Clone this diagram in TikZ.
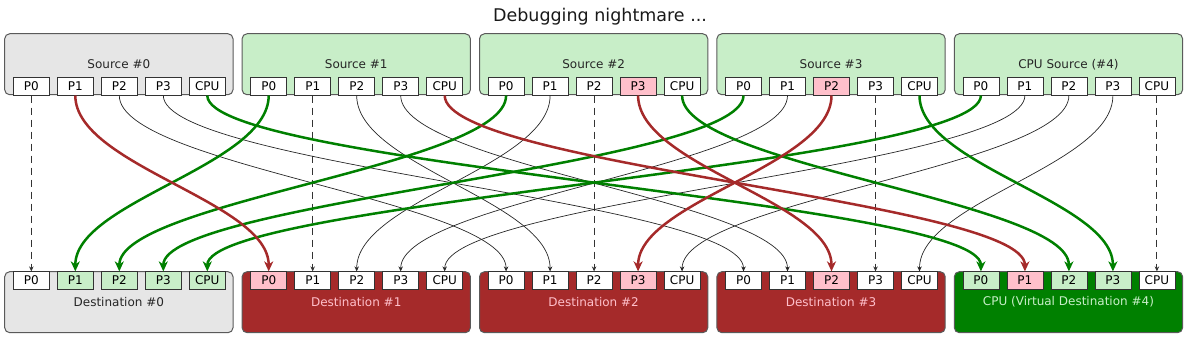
\documentclass[tikz,border=0pt]{standalone}
\usepackage{fontspec}
\setmainfont{DejaVu Sans}
\usetikzlibrary{arrows.meta}
\definecolor{boxgray}{RGB}{230,230,230}
\definecolor{srcgreen}{RGB}{200,238,200}
\definecolor{portpink}{RGB}{255,192,203}
\definecolor{darkred}{RGB}{165,42,42}
\definecolor{darkgreen}{RGB}{0,128,0}
\definecolor{edgegray}{RGB}{90,90,90}
\tikzset{
  box/.style        = {rectangle, rounded corners=5pt, draw=edgegray, line width=1pt,
                       minimum width=228.3pt, minimum height=61pt, inner sep=0pt,
                       font=\fontsize{12}{14}\selectfont},
  graybox/.style    = {box, fill=boxgray, text=black!85},
  greenbox/.style   = {box, fill=srcgreen, text=black!85},
  redbox/.style     = {box, fill=darkred, text=portpink},
  cpubox/.style     = {box, fill=darkgreen, text=srcgreen},
  port/.style       = {rectangle, draw=black!80, fill=white, text=black, line width=0.8pt,
                       minimum width=36pt, minimum height=17.4pt, inner sep=0pt,
                       font=\fontsize{12}{14}\selectfont},
  pinkport/.style   = {fill=portpink},
  greenport/.style  = {fill=srcgreen},
  % highlighted ports
  hl s2-3/.style = {pinkport}, hl s3-2/.style = {pinkport},
  hl d0-1/.style = {greenport}, hl d0-2/.style = {greenport},
  hl d0-3/.style = {greenport}, hl d0-4/.style = {greenport},
  hl d1-0/.style = {pinkport}, hl d2-3/.style = {pinkport}, hl d3-2/.style = {pinkport},
  hl d4-0/.style = {greenport}, hl d4-1/.style = {pinkport},
  hl d4-2/.style = {greenport}, hl d4-3/.style = {greenport},
  straight/.style   = {-{Stealth[length=5pt,width=4.5pt]}, black!80, line width=0.9pt,
                       dash pattern=on 7pt off 5pt},
  thinlink/.style   = {-{Stealth[length=5pt,width=4.5pt]}, black!85, line width=0.7pt},
  greenlink/.style  = {-{Stealth[length=10pt,width=9pt,inset=3pt]}, darkgreen, line width=2.5pt},
  redlink/.style    = {-{Stealth[length=10pt,width=9pt,inset=3pt]}, darkred, line width=2.5pt},
  title/.style      = {font=\fontsize{17.5}{20}\selectfont, text=black!90},
}

\begin{document}
\begin{tikzpicture}[x=1pt, y=-1pt]
  \useasboundingbox (0,0) rectangle (1200,345);

  \node[title] (title) at (600,17) {Debugging nightmare ...};

  % sources and destinations
  \foreach \i/\lab/\look in {0/{Source \#0}/graybox, 1/{Source \#1}/greenbox,
                             2/{Source \#2}/greenbox, 3/{Source \#3}/greenbox,
                             4/{CPU Source (\#4)}/greenbox}
    \node[\look] (s\i) at (118.85+237.4*\i, 64.25) {\lab};

  \foreach \i/\lab/\look in {0/{Destination \#0}/graybox, 1/{Destination \#1}/redbox,
                             2/{Destination \#2}/redbox, 3/{Destination \#3}/redbox,
                             4/{CPU (Virtual Destination \#4)}/cpubox}
    \node[\look] (d\i) at (118.85+237.4*\i, 302.2) {\lab};

  % ports
  \foreach \i in {0,...,4}
    \foreach \j/\lab in {0/P0, 1/P1, 2/P2, 3/P3, 4/CPU} {
      \node[port, hl s\i-\j/.try] (s\i-\j) at (31.3+44*\j+237.4*\i, 86.4) {\lab};
      \node[port, hl d\i-\j/.try] (d\i-\j) at (31.3+44*\j+237.4*\i, 280.5) {\lab};
    }

  % connectors: source i, port j -> destination j, port i
  \foreach \i in {0,...,4}
    \draw[straight] (s\i-\i.south) -- (d\i-\i.north);

  \foreach \i/\j in {0/2, 0/3, 1/2, 1/3, 2/1, 3/1, 4/1, 4/2, 4/3}
    \draw[thinlink] (s\i-\j.south) .. controls +(0,70) and +(0,-70) .. (d\j-\i.north);

  \foreach \i/\j in {1/0, 2/0, 3/0, 4/0, 0/4, 2/4, 3/4}
    \draw[greenlink] (s\i-\j.south) .. controls +(0,70) and +(0,-70) .. (d\j-\i.north);

  \foreach \i/\j in {0/1, 1/4, 2/3, 3/2}
    \draw[redlink] (s\i-\j.south) .. controls +(0,70) and +(0,-70) .. (d\j-\i.north);
\end{tikzpicture}
\end{document}
